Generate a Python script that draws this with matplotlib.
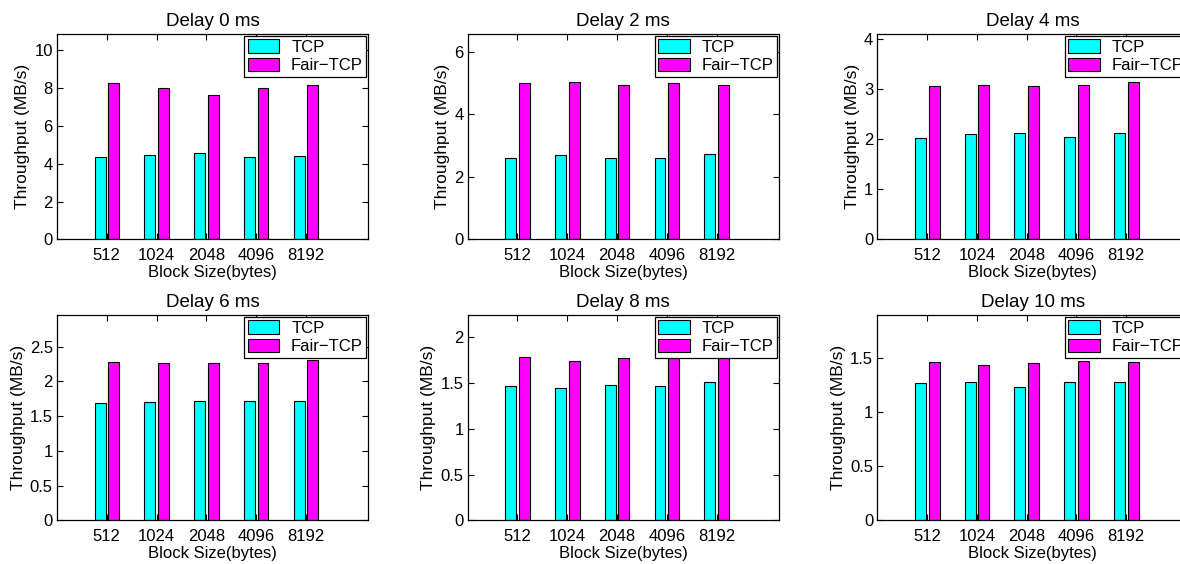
import matplotlib
matplotlib.use('Agg')
import matplotlib.pyplot as plt
import matplotlib.ticker as mticker
import numpy as np

# block sizes (x categories)
block_sizes = ['512', '1024', '2048', '4096', '8192']
delays = [0, 2, 4, 6, 8, 10]

# throughput values (MB/s)
tcp_0 = [4.33, 4.44, 4.56, 4.38, 4.40]
fair_0 = [8.29, 7.99, 7.64, 8.03, 8.19]
tcp_2 = [2.60, 2.70, 2.62, 2.60, 2.72]
fair_2 = [5.02, 5.05, 4.95, 5.01, 4.95]
tcp_4 = [2.02, 2.10, 2.12, 2.05, 2.12]
fair_4 = [3.06, 3.08, 3.06, 3.07, 3.13]
tcp_6 = [1.69, 1.70, 1.72, 1.71, 1.72]
fair_6 = [2.28, 2.27, 2.27, 2.27, 2.30]
tcp_8 = [1.47, 1.45, 1.48, 1.47, 1.51]
fair_8 = [1.78, 1.74, 1.77, 1.80, 1.80]
tcp_10 = [1.27, 1.28, 1.24, 1.28, 1.28]
fair_10 = [1.47, 1.44, 1.46, 1.48, 1.47]

tcp_all = [tcp_0, tcp_2, tcp_4, tcp_6, tcp_8, tcp_10]
fair_all = [fair_0, fair_2, fair_4, fair_6, fair_8, fair_10]
y_tops = [10.85, 6.57, 4.09, 2.95, 2.24, 1.90]
y_steps = [2, 2, 1, 0.5, 0.5, 0.5]

plt.rcParams['font.family'] = ['Liberation Sans', 'DejaVu Sans']

fig = plt.figure(figsize=(11.8, 5.64), dpi=100)
W, H = 1180.0, 564.0
lefts = [57, 467.7, 877.3]
tops = [34.3, 315.3]
aw, ah = 311, 205

x = np.arange(1, 6)
bw = 0.22
for i in range(6):
    r, c = divmod(i, 3)
    ax = fig.add_axes([lefts[c] / W, 1 - (tops[r] + ah) / H, aw / W, ah / H])
    ax.bar(x - 0.135, tcp_all[i], bw, color='#00ffff', edgecolor='black', linewidth=0.8, label='TCP')
    ax.bar(x + 0.14, fair_all[i], bw, color='#ff00ff', edgecolor='black', linewidth=0.8, label='Fair\u2212TCP')
    ax.set_xlim(0, 6.25)
    ax.set_ylim(0, y_tops[i])
    ax.set_xticks(x)
    ax.set_xticklabels(block_sizes)
    ax.yaxis.set_major_locator(mticker.MultipleLocator(y_steps[i]))
    ax.yaxis.set_major_formatter(mticker.FormatStrFormatter('%g'))
    ax.tick_params(direction='in', top=True, right=True, length=4, width=0.8, labelsize=12)
    ax.tick_params(axis='x', pad=6.5)
    ax.tick_params(axis='y', pad=3)
    for s in ax.spines.values():
        s.set_linewidth(0.9)
    ax.set_title('Delay %d ms' % delays[i], fontsize=13.5, pad=6)
    ax.set_xlabel('Block Size(bytes)', fontsize=12, labelpad=1.5)
    ax.set_ylabel('Throughput (MB/s)', fontsize=12.5, labelpad=3)
    leg = ax.legend(loc='upper right', borderaxespad=0.1, fancybox=False, edgecolor='black',
                    framealpha=1, fontsize=12, handlelength=1.9, handleheight=0.85,
                    borderpad=0.2, labelspacing=0.2, handletextpad=0.7)
    leg.get_frame().set_linewidth(0.9)

fig.savefig('out.png', dpi=100)
